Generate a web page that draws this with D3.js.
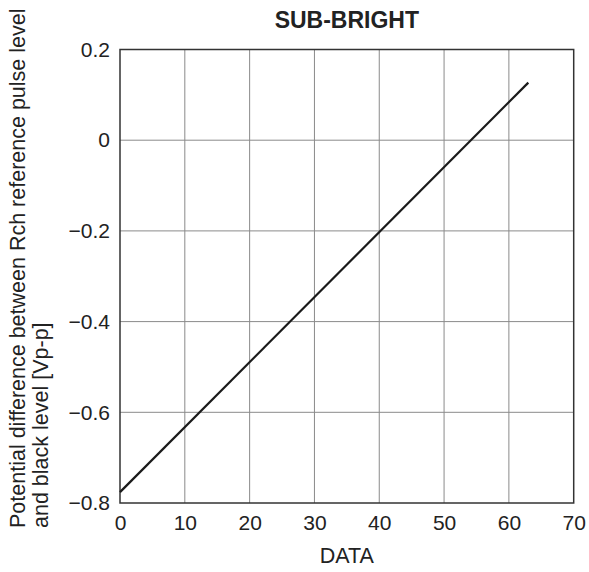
<!DOCTYPE html>
<html>
<head>
<meta charset="utf-8">
<script src="https://cdn.jsdelivr.net/npm/d3@7"></script>
<style>
  body { margin: 0; background: #fff; }
  text { font-family: "Liberation Sans", Arial, sans-serif; fill: #222; }
</style>
</head>
<body>
<div class="chart"></div>
<script>
// DATA ------------------------------------
const dataX = [0, 63]
const potential = [-0.776, 0.127]
const xTicks = [0, 10, 20, 30, 40, 50, 60, 70]
const yTicks = [-0.8, -0.6, -0.4, -0.2, 0, 0.2]

const title = "SUB-BRIGHT"
const xTitle = "DATA"
const yTitle = ["Potential difference between Rch reference pulse level", "and black level [Vp-p]"]

// CHART INIT ------------------------------
const W = 589, H = 572
const margin = {top: 49.5, right: 15.3, bottom: 69, left: 120}
const width = W - margin.left - margin.right
const height = H - margin.top - margin.bottom

const svg = d3.select(".chart").append("svg")
    .attr("width", W)
    .attr("height", H)

const g = svg.append("g")
    .attr("transform", `translate(${margin.left},${margin.top})`)

const x = d3.scaleLinear().domain([0, 70]).range([0, width])
const y = d3.scaleLinear().domain([-0.8, 0.2]).range([height, 0])

const fmt = d => d === 0 ? "0" : d3.format(".1f")(d).replace("-", "\u2013")

// grid
g.append("g").selectAll("line")
    .data(xTicks.slice(1, -1))
    .join("line")
        .attr("x1", d => x(d)).attr("x2", d => x(d))
        .attr("y1", 0).attr("y2", height)
        .attr("stroke", "#8a8a8a").attr("stroke-width", 1)
g.append("g").selectAll("line")
    .data(yTicks.slice(1, -1))
    .join("line")
        .attr("x1", 0).attr("x2", width)
        .attr("y1", d => y(d)).attr("y2", d => y(d))
        .attr("stroke", "#8a8a8a").attr("stroke-width", 1)

// axes (labels only)
const xAx = d3.axisBottom(x).tickValues(xTicks).tickSize(0).tickPadding(12).tickFormat(d => d)
const yAx = d3.axisLeft(y).tickValues(yTicks).tickSize(0).tickPadding(10).tickFormat(fmt)

g.append("g")
    .attr("transform", `translate(0,${height})`)
    .call(xAx)
    .call(a => a.select(".domain").remove())
    .call(a => a.selectAll("text").attr("font-size", 21).attr("fill", "#222").attr("font-family", null))
g.append("g")
    .call(yAx)
    .call(a => a.select(".domain").remove())
    .call(a => a.selectAll("text").attr("font-size", 21).attr("fill", "#222").attr("font-family", null))

// frame
g.append("rect")
    .attr("width", width).attr("height", height)
    .attr("fill", "none").attr("stroke", "#333").attr("stroke-width", 1.5)

// line
const line = d3.line().x(d => x(d[0])).y(d => y(d[1]))
g.append("path")
    .datum(dataX.map((d, i) => [d, potential[i]]))
    .attr("d", line)
    .attr("fill", "none")
    .attr("stroke", "#1a1a1a")
    .attr("stroke-width", 2.2)

// titles
svg.append("text")
    .attr("x", margin.left + width / 2).attr("y", 28)
    .attr("text-anchor", "middle")
    .attr("font-size", 23).attr("font-weight", "bold")
    .text(title)

svg.append("text")
    .attr("x", margin.left + width / 2).attr("y", 563)
    .attr("text-anchor", "middle")
    .attr("font-size", 21.5)
    .text(xTitle)

svg.selectAll(".ylab")
    .data(yTitle)
    .join("text")
        .attr("class", "ylab")
        .attr("transform", (d, i) => `translate(${25 + i * 23},528) rotate(-90)`)
        .attr("text-anchor", "start")
        .attr("font-size", 21.5)
        .text(d => d)
</script>
</body>
</html>
